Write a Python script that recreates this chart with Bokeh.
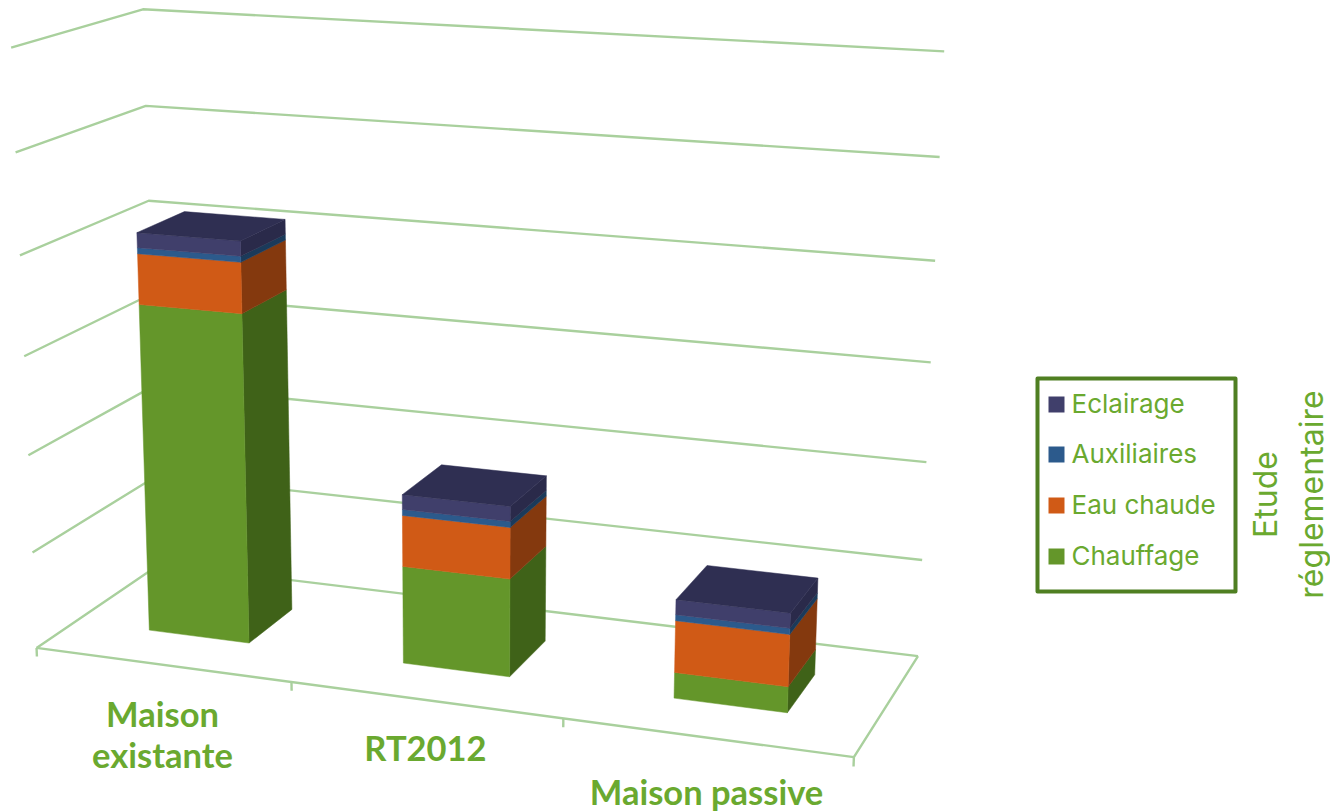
from bokeh.core.properties import value
from bokeh.embed import file_html
from bokeh.models import Range1d
from bokeh.plotting import figure
from bokeh.resources import INLINE
import math
import numpy as np

# Stacked consumption per building type, bottom to top
categories = ["Maison\nexistante", "RT2012", "Maison passive"]
series_names = ["Chauffage", "Eau chaude", "Auxiliaires", "Eclairage"]
chauffage = [169.5, 50, 13]
eau_chaude = [25.5, 26, 26]
auxiliaires = [3, 3, 3]
eclairage = [7.5, 7.5, 7.5]
series_values = [chauffage, eau_chaude, auxiliaires, eclairage]
grid_values = [0, 50, 100, 150, 200, 250, 300]

front_colors = ["#64962a", "#d05a16", "#2c5a8c", "#403f6b"]
side_colors = ["#3f6218", "#84390e", "#1b3a5a", "#2a2a4a"]
top_color = "#2f2f52"
grid_color = "#a9d09d"
text_color = "#6aa92f"
legend_edge = "#4f7f22"

# Camera calibration: world (category, value, depth) to page pixels
world_refs = [
    (0, 300, 0), (0, 250, 0), (0, 200, 0), (0, 150, 0), (0, 100, 0), (0, 50, 0), (0, 0, 0),
    (3, 300, 1), (3, 250, 1), (3, 200, 1), (3, 150, 1), (3, 100, 1), (3, 50, 1), (3, 0, 1),
    (0, 300, 1), (0, 250, 1), (0, 200, 1), (0, 150, 1), (0, 100, 1), (0, 50, 1), (0, 0, 1),
    (1, 0, 0), (2, 0, 0), (3, 0, 0),
]
page_refs = [
    (10, 47), (16, 152), (19, 255), (23, 355), (28, 455), (32, 552), (37, 647),
    (943, 51), (940, 156), (934, 261), (931, 361), (927, 462), (921, 560), (917, 655),
    (141, 10), (147, 105), (149, 200), (151, 293), (153, 384), (156, 476), (159, 564),
    (291, 683), (563, 717), (853, 757),
]


def fit_camera(world, page):
    rows, rhs = [], []
    for (X, Y, Z), (u, v) in zip(world, page):
        rows.append([X, Y, Z, 1, 0, 0, 0, 0, -u * X, -u * Y, -u * Z])
        rhs.append(u)
        rows.append([0, 0, 0, 0, X, Y, Z, 1, -v * X, -v * Y, -v * Z])
        rhs.append(v)
    sol = np.linalg.lstsq(np.array(rows, float), np.array(rhs, float), rcond=None)[0]
    return np.append(sol, 1.0).reshape(3, 4)


CAMERA = fit_camera(world_refs, page_refs)


def project(X, Y, Z):
    u, v, w = CAMERA @ np.array([X, Y, Z, 1.0])
    return u / w, v / w


def path(points):
    pts = [project(*pt) for pt in points]
    return [q[0] for q in pts], [q[1] for q in pts]


p = figure(width=1330, height=812, output_backend="svg", toolbar_location=None,
           x_range=Range1d(0, 1330), y_range=Range1d(812, 0), min_border=0)
p.xaxis.visible = False
p.yaxis.visible = False
p.grid.visible = False
p.outline_line_color = None

# Wall gridlines, floor outline and category ticks
xs, ys = [], []
for g in grid_values:
    x, y = path([(0, g, 0), (0, g, 1), (3, g, 1)])
    xs.append(x)
    ys.append(y)
x, y = path([(0, 0, 0), (3, 0, 0), (3, 0, 1)])
xs.append(x)
ys.append(y)
for c in range(len(categories) + 1):
    x, y = path([(c, 0, 0), (c, -4.5, 0)])
    xs.append(x)
    ys.append(y)
p.multi_line(xs, ys, line_color=grid_color, line_width=2.4)

# Bars, drawn left to right and bottom to top
BAR_WIDTH = 0.4
BAR_DEPTH = 0.385
BAR_CENTER = 0.498
for c in range(len(categories)):
    x0, x1 = c + BAR_CENTER - BAR_WIDTH / 2, c + BAR_CENTER + BAR_WIDTH / 2
    z0, z1 = 0.5 - BAR_DEPTH / 2, 0.5 + BAR_DEPTH / 2
    base = 0
    for s, vals in enumerate(series_values):
        top = base + vals[c]
        sx, sy = path([(x1, base, z0), (x1, base, z1), (x1, top, z1), (x1, top, z0)])
        p.patch(sx, sy, fill_color=side_colors[s], line_color=side_colors[s], line_width=0.5)
        fx, fy = path([(x0, base, z0), (x1, base, z0), (x1, top, z0), (x0, top, z0)])
        p.patch(fx, fy, fill_color=front_colors[s], line_color=front_colors[s], line_width=0.5)
        base = top
    tx, ty = path([(x0, base, z0), (x1, base, z0), (x1, base, z1), (x0, base, z1)])
    p.patch(tx, ty, fill_color=top_color, line_color=top_color, line_width=0.5)

# Category labels
label_x = [162, 425, 706]
label_y = [713, 747, 791]
for name, lx, ly in zip(categories, label_x, label_y):
    for i, line in enumerate(name.split("\n")):
        p.text([lx], [ly + 41 * i], text=[line], text_font=value("Lato"), text_font_style="bold",
               text_font_size="34.5px", text_color=text_color, text_align="center",
               text_baseline="alphabetic")

# Legend
p.quad(left=[1037], right=[1235], top=[378], bottom=[591], fill_color=None,
       line_color=legend_edge, line_width=4, line_join="round")
legend_y = [404, 454, 505, 556]
for name, ly in zip(reversed(series_names), legend_y):
    idx = series_names.index(name)
    p.quad(left=[1048], right=[1064], top=[ly - 8], bottom=[ly + 8],
           fill_color=front_colors[idx], line_color=None)
    p.text([1071], [ly - 1], text=[name], text_font=value("Inter"), text_font_size="26px",
           text_color=text_color, text_align="left", text_baseline="middle")

# Series title, rotated along the legend
title_x = [1265, 1311]
for word, tx in zip(["Etude", "réglementaire"], title_x):
    p.text([tx], [494], text=[word], angle=[math.pi / 2], text_font=value("Inter"),
           text_font_size="32px", text_color=text_color, text_align="center",
           text_baseline="middle")

open("out.html", "w").write(file_html(p, INLINE))
